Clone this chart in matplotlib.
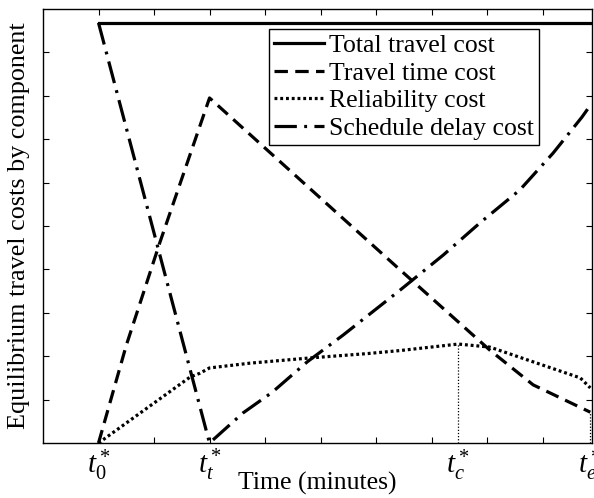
import matplotlib
matplotlib.use("Agg")
import matplotlib.pyplot as plt

plt.rcParams['font.family'] = 'Liberation Serif'
plt.rcParams['mathtext.fontset'] = 'custom'
plt.rcParams['mathtext.rm'] = 'Liberation Serif'
plt.rcParams['mathtext.it'] = 'Liberation Serif:italic'

# key times (x positions, in grid units)
t0 = 1.0
tt = 3.0
tc = 7.48
te = 9.86

# total travel cost
total_x = [t0, te]
total_y = [9.68, 9.68]

# travel time cost
time_x = [t0, 1.5, 2.1, tt, 4.68, 6.38, 8.05, 8.83, te]
time_y = [0.0, 2.25, 4.6, 7.95, 6.01, 4.05, 2.14, 1.34, 0.71]

# reliability cost
rel_x = [t0, 2.65, 2.83, tt, 3.73, 4.81, 5.84, 6.43, tc, 8.05, 9.68, te]
rel_y = [0.0, 1.52, 1.61, 1.73, 1.84, 1.96, 2.06, 2.13, 2.28, 2.21, 1.50, 1.27]

# schedule delay cost
sch_x = [t0, tt, 3.60, 4.13, 4.76, 5.41, 6.43, 7.21, 7.87, 8.59, 9.19, 9.71, te]
sch_y = [9.68, 0.0, 0.69, 1.17, 1.87, 2.49, 3.52, 4.33, 5.07, 5.83, 6.68, 7.51, 7.78]

tick_pos = [t0, tt, tc, te]
tick_lbl = [r'$t_0^*$', r'$t_t^*$', r'$t_c^*$', r'$t_e^*$']

fig = plt.figure(figsize=(5.94, 4.98), dpi=100)
ax = fig.add_axes([0.0724, 0.1104, 0.9242, 0.8716])

lw = 2.3
ax.plot(total_x, total_y, color='k', lw=lw, ls='-', label='Total travel cost')
ax.plot(time_x, time_y, color='k', lw=lw, ls=(0, (4.2, 2.3)), label='Travel time cost')
ax.plot(rel_x, rel_y, color='k', lw=lw, ls=(0, (0.9, 0.9)), label='Reliability cost')
ax.plot(sch_x, sch_y, color='k', lw=lw, ls=(0, (7, 2.3, 0.9, 2.3)), label='Schedule delay cost')

# thin dotted drop lines
ax.plot([tc, tc], [0, rel_y[rel_x.index(tc)]], color='k', lw=0.9, ls=(0, (1, 1.5)))
ax.plot([te, te], [0, time_y[-1]], color='k', lw=0.9, ls=(0, (1, 1.5)))

ax.set_xlim(0, 9.89)
ax.set_ylim(0, 10)
ax.set_xticks(range(1, 10))
ax.set_xticklabels([])
ax.set_yticks(range(1, 10))
ax.set_yticklabels([])
ax.tick_params(which='major', direction='in', length=4, width=0.8,
               top=True, right=True)
for s in ax.spines.values():
    s.set_linewidth(1.0)

# time labels under the axis
for p, s in zip(tick_pos, tick_lbl):
    ax.text(p, -0.1, s, ha='center', va='top', fontsize=21)

ax.set_xlabel('Time (minutes)', fontsize=18.5, labelpad=17)
ax.set_ylabel('Equilibrium travel costs by component', fontsize=18.8, labelpad=6)

leg = ax.legend(loc='upper right', bbox_to_anchor=(0.9035, 0.954), borderaxespad=0,
                fontsize=18.5, fancybox=False, edgecolor='k', framealpha=1,
                borderpad=0.2, labelspacing=0.18, handlelength=1.95, handletextpad=0.2)
leg.get_frame().set_linewidth(1.0)

fig.savefig('out.png', dpi=100)
